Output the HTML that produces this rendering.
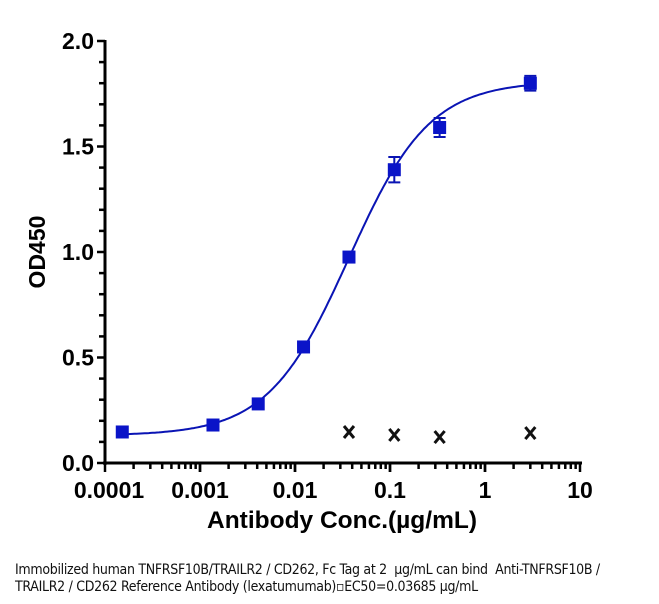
<!DOCTYPE html>
<html><head><meta charset="utf-8"><style>
body{margin:0;background:#fff;width:659px;height:604px;overflow:hidden;font-family:"Liberation Sans",Arial,sans-serif}
svg text{font-family:"Liberation Sans",Arial,sans-serif}
.cap{position:absolute;left:15px;top:562px;font-size:14px;line-height:17px;color:#111;font-family:"DejaVu Sans Condensed","Liberation Sans",sans-serif;letter-spacing:-0.3px;white-space:nowrap}
</style></head><body>
<svg id="chart" width="659" height="604" style="position:absolute;left:0;top:0"></svg>
<div class="cap">Immobilized human TNFRSF10B/TRAILR2 / CD262, Fc Tag at 2 &nbsp;µg/mL can bind &nbsp;Anti-TNFRSF10B /<br>TRAILR2 / CD262 Reference Antibody (lexatumumab)&#9643;EC50=0.03685 µg/mL</div>
<script>
const conc=[0.000152,0.00137,0.0041,0.0123,0.037,0.111,0.333,3];
const od=[0.147,0.18,0.28,0.55,0.976,1.39,1.59,1.80];
const err=[0.01,0.01,0.01,0.01,0.015,0.06,0.045,0.035];
const negConc=[0.037,0.111,0.333,3];
const negOd=[0.147,0.133,0.123,0.142];
const xTicks=[0.0001,0.001,0.01,0.1,1,10];
const xTickLabels=["0.0001","0.001","0.01","0.1","1","10"];
const yTicks=[0,0.5,1,1.5,2];
const yTickLabels=["0.0","0.5","1.0","1.5","2.0"];
const fitBottom=0.13,fitTop=1.81,fitEC50=0.03685,fitHill=1.02;
const X0=105,X1=580,Y0=463,Y1=41;
const sx=v=>X0+(Math.log10(v)+4)/5*(X1-X0);
const sy=v=>Y0-v/2*(Y0-Y1);
const svg=document.getElementById('chart');
const NS='http://www.w3.org/2000/svg';
function mk(t,a,p){const e=document.createElementNS(NS,t);for(const k in a)e.setAttribute(k,a[k]);(p||svg).appendChild(e);return e;}
let e;
e=mk('line',{x1:X0,y1:Y1-1,x2:X0,y2:Y0+2,stroke:'#000','stroke-width':3});

e=mk('line',{x1:X0-2,y1:Y0,x2:X1+2,y2:Y0,stroke:'#000','stroke-width':3});

for(let i=0;i<=20;i++){const v=i*0.1;const major=i%5===0;mk('line',{x1:X0-(major?8:6),y1:sy(v),x2:X0,y2:sy(v),stroke:'#000','stroke-width':2.5});}
yTicks.forEach((v,i)=>{e=mk('text',{x:X0-11,y:sy(v)+8,'text-anchor':'end','font-size':23,'font-weight':'bold'});e.textContent=yTickLabels[i];
});
for(let d=-4;d<1;d++){for(let m=1;m<=10;m++){const v=m*Math.pow(10,d);const x=sx(v);const major=m===1||m===10;mk('line',{x1:x,y1:Y0,x2:x,y2:Y0+(major?9:6),stroke:'#000','stroke-width':2.5});}}
xTicks.forEach((v,i)=>{e=mk('text',{x:sx(v)+(i===0?4:0),y:Y0+35,'text-anchor':'middle','font-size':23,'font-weight':'bold'});e.textContent=xTickLabels[i];
});
e=mk('text',{x:342,y:528,'text-anchor':'middle','font-size':24.5,'font-weight':'bold'});e.textContent='Antibody Conc.(µg/mL)';

e=mk('text',{x:0,y:0,'text-anchor':'middle','font-size':23,'font-weight':'bold',transform:'translate(45,252) rotate(-90)'});e.textContent='OD450';

let d='';for(let i=0;i<=200;i++){const lx=Math.log10(conc[0])+i/200*(Math.log10(conc[conc.length-1])-Math.log10(conc[0]));const v=Math.pow(10,lx);const y=fitBottom+(fitTop-fitBottom)/(1+Math.pow(fitEC50/v,fitHill));d+=(i?'L':'M')+sx(v).toFixed(1)+','+sy(y).toFixed(1);}
e=mk('path',{d:d,fill:'none',stroke:'#0a14b4','stroke-width':2});

conc.forEach((c,i)=>{const x=sx(c),y=sy(od[i]);
if(err[i]>0.02){const t=sy(od[i]+err[i]),b=sy(od[i]-err[i]);mk('path',{d:`M${x},${t}V${b}M${x-6},${t}H${x+6}M${x-6},${b}H${x+6}`,stroke:'#0a14b4','stroke-width':2,fill:'none'});}
e=mk('rect',{x:x-6.5,y:y-6.5,width:13,height:13,fill:'#0a14c8'});
});
negConc.forEach((c,i)=>{const x=sx(c),y=sy(negOd[i]);
e=mk('path',{d:`M${x-5},${y-6}L${x+5},${y+6}M${x+5},${y-6}L${x-5},${y+6}`,stroke:'#111','stroke-width':3});
});
</script>
</body></html>
